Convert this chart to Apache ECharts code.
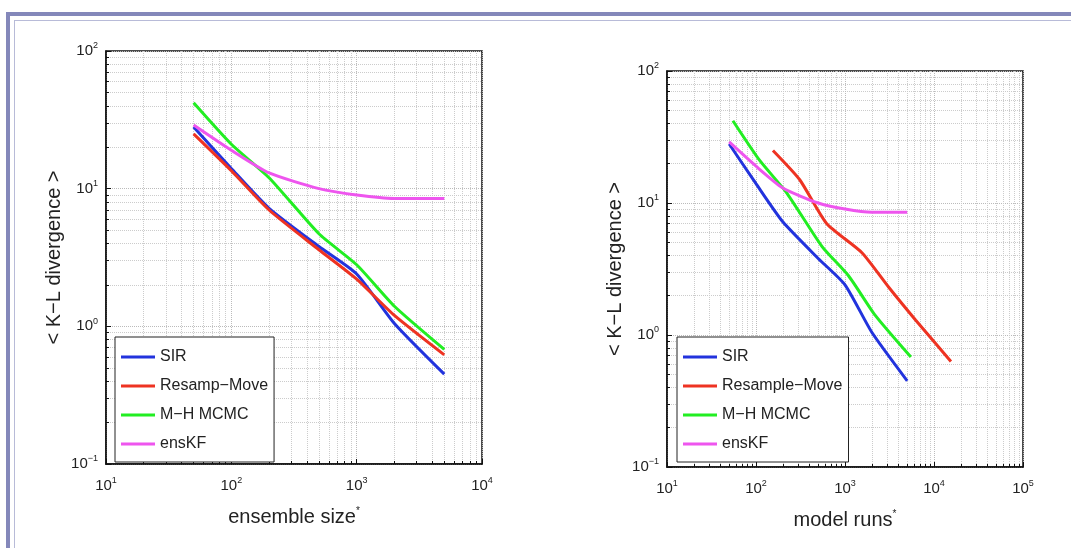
<!DOCTYPE html>
<html><head><meta charset="utf-8">
<script src="https://cdn.jsdelivr.net/npm/echarts@6/dist/echarts.min.js"></script>
<style>
body{margin:0;background:#fff;}
#frame{position:absolute;left:6px;top:12px;width:1080px;height:560px;border-left:4px solid #8488ba;border-top:4px solid #8488ba;}
#inner{position:absolute;left:14px;top:20px;width:1080px;height:560px;border-left:1px solid #b8bbd8;border-top:1px solid #b8bbd8;}
#c{position:absolute;left:0;top:0;width:1071px;height:548px;}
</style></head>
<body><div id="frame"></div><div id="inner"></div><div id="c"></div>
<script>
// 数据
var ensSize = [50, 100, 200, 500, 1000, 2000, 5000];
var sirKL = [28, 14, 7.2, 3.8, 2.4, 1.05, 0.45];
var rmKL = [25, 13.5, 7, 3.6, 2.2, 1.2, 0.62];
var mhKL = [42, 21, 12, 4.7, 2.8, 1.4, 0.68];
var enkfKL = [29, 19, 13, 10, 9, 8.5, 8.5];
// 右图 model runs
var sirRuns = [50, 100, 200, 500, 1000, 2000, 5000];
var rmRuns = [155, 310, 620, 1550, 3100, 6200, 15500];
var mhRuns = [55, 110, 220, 550, 1100, 2200, 5500];
var enkfRuns = [50, 100, 200, 500, 1000, 2000, 5000];
var rmKL2 = [25, 15, 7, 4.2, 2.3, 1.3, 0.63];

var colors = {SIR: '#2233dd', RM: '#ee3322', MH: '#22ee22', EN: '#ee55ee'};
var font = 'Liberation Sans, Arial, sans-serif';

function pairs(xs, ys) { return xs.map(function (x, i) { return [x, ys[i]]; }); }
function pow10(v) {
  var e = Math.round(Math.log10(v));
  return '10{s|' + (e < 0 ? '\u22121' : e) + '}';
}
function xAx(idx, max, name) {
  return {
    type: 'log', gridIndex: idx, min: 10, max: max, logBase: 10,
    name: name, nameLocation: 'middle', nameGap: 42,
    nameTextStyle: {fontSize: 20, color: '#222', fontFamily: font, rich: {s: {fontSize: 10, verticalAlign: 'top', padding: [0, 0, 12, 0]}}},
    axisLine: {lineStyle: {color: '#111', width: 1.5}},
    axisTick: {inside: true, length: 5, lineStyle: {color: '#111'}},
    minorTick: {show: true, splitNumber: 9, length: 3, lineStyle: {color: '#111'}},
    splitLine: {show: true, lineStyle: {color: '#bbb', type: 'dotted'}},
    minorSplitLine: {show: true, lineStyle: {color: '#ccc', type: 'dotted'}},
    axisLabel: {formatter: pow10, color: '#222', fontSize: 15, fontFamily: font, margin: 12,
      rich: {s: {fontSize: 9, verticalAlign: 'top', padding: [0, 0, 10, 0]}}}
  };
}
function yAx(idx) {
  return {
    type: 'log', gridIndex: idx, min: 0.1, max: 100, logBase: 10,
    name: '< K\u2212L divergence >', nameLocation: 'middle', nameGap: 42, nameRotate: 90,
    nameTextStyle: {fontSize: 20, color: '#222', fontFamily: font},
    axisLine: {lineStyle: {color: '#111', width: 1.5}},
    axisTick: {inside: true, length: 5, lineStyle: {color: '#111'}},
    minorTick: {show: true, splitNumber: 9, length: 3, lineStyle: {color: '#111'}},
    splitLine: {show: true, lineStyle: {color: '#bbb', type: 'dotted'}},
    minorSplitLine: {show: true, lineStyle: {color: '#ccc', type: 'dotted'}},
    axisLabel: {formatter: pow10, color: '#222', fontSize: 15, fontFamily: font, margin: 8,
      rich: {s: {fontSize: 9, verticalAlign: 'top', padding: [0, 0, 10, 0]}}}
  };
}
function line(name, idx, data, color) {
  return {name: name, type: 'line', xAxisIndex: idx, yAxisIndex: idx, data: data,
    showSymbol: false, smooth: 0.2, lineStyle: {color: color, width: 3}, itemStyle: {color: color}};
}
function legend(left, top, names) {
  return {orient: 'vertical', left: left, top: top, data: names, itemWidth: 34, itemHeight: 3, itemGap: 13,
    padding: [12, 6, 10, 6], borderColor: '#222', borderWidth: 1, backgroundColor: '#fff',
    icon: 'rect', textStyle: {fontSize: 16, color: '#222', fontFamily: font}};
}

var chart = echarts.init(document.getElementById('c'));
chart.setOption({
  animation: false,
  grid: [
    {left: 106, top: 51, width: 376, height: 413, show: true, borderColor: '#111', borderWidth: 1.5},
    {left: 667, top: 71, width: 356, height: 396, show: true, borderColor: '#111', borderWidth: 1.5}
  ],
  xAxis: [xAx(0, 10000, 'ensemble size{s|*}'), xAx(1, 100000, 'model runs{s|*}')],
  yAxis: [yAx(0), yAx(1)],
  legend: [
    legend(115, 337, ['SIR', 'Resamp\u2212Move', 'M\u2212H MCMC', 'ensKF']),
    legend(677, 337, ['SIR ', 'Resample\u2212Move', 'M\u2212H MCMC ', 'ensKF '])
  ],
  series: [
    line('SIR', 0, pairs(ensSize, sirKL), colors.SIR),
    line('Resamp\u2212Move', 0, pairs(ensSize, rmKL), colors.RM),
    line('M\u2212H MCMC', 0, pairs(ensSize, mhKL), colors.MH),
    line('ensKF', 0, pairs(ensSize, enkfKL), colors.EN),
    line('SIR ', 1, pairs(sirRuns, sirKL), colors.SIR),
    line('Resample\u2212Move', 1, pairs(rmRuns, rmKL2), colors.RM),
    line('M\u2212H MCMC ', 1, pairs(mhRuns, mhKL), colors.MH),
    line('ensKF ', 1, pairs(enkfRuns, enkfKL), colors.EN)
  ]
});
</script></body></html>
